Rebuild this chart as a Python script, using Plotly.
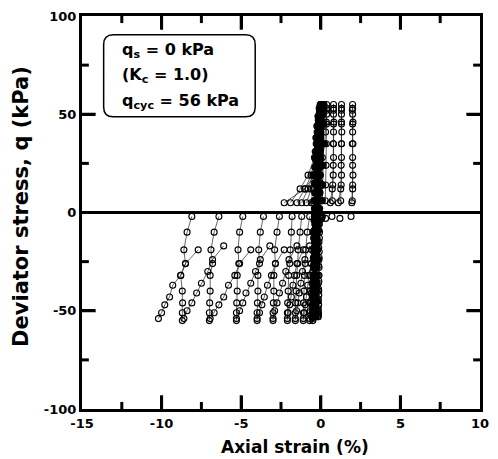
import plotly.graph_objects as go

# ---------------- data ----------------
X_TICK_TEXT = ["-15", "-10", "-5", "0", "5", "10"]
Y_TICK_TEXT = ["-100", "-50", "0", "50", "100"]
X_MAJOR = [-15, -10, -5, 0, 5, 10]
X_MINOR = [-12.5, -7.5, -2.5, 2.5, 7.5]
Y_MAJOR = [-100, -50, 0, 50, 100]
Y_MINOR = [-75, -25, 25, 75]

# early cycles (dense band near zero strain): deviator stress levels per cycle
BAND_Q = [2, 10, 19, 27, 35, 41, 47, 51, 54, 55,
          53, 49, 43, 36, 28, 19, 10, 2,
          -6, -15, -24, -32, -39, -45, -49, -52, -53,
          -50, -44, -36, -27, -18, -9]
BAND_Q2 = [6, 15, 23, 31, 38, 44, 49, 53, 55,
           54, 51, 46, 40, 32, 24, 15, 6,
           -2, -10, -20, -28, -35, -42, -47, -51, -53,
           -52, -47, -40, -32, -23, -13, -4]

BAND_STRAIN_A = [-0.10, -0.08, -0.06, -0.05, -0.04, -0.03, -0.02, -0.01, 0.00, 0.02,
                 0.02, 0.01, 0.00, -0.01, -0.02, -0.03, -0.05, -0.07,
                 -0.09, -0.11, -0.12, -0.13, -0.14, -0.15, -0.16, -0.17, -0.18,
                 -0.17, -0.16, -0.15, -0.14, -0.13, -0.12]
BAND_STRAIN_B = [-0.15, -0.13, -0.11, -0.09, -0.07, -0.05, -0.03, -0.02, 0.00, 0.03,
                 0.03, 0.02, 0.00, -0.02, -0.04, -0.06, -0.09, -0.12,
                 -0.15, -0.18, -0.20, -0.22, -0.24, -0.26, -0.28, -0.30, -0.31,
                 -0.30, -0.29, -0.27, -0.25, -0.23, -0.20]
BAND_STRAIN_C = [-0.22, -0.19, -0.16, -0.13, -0.10, -0.07, -0.04, -0.02, 0.01, 0.04,
                 0.04, 0.02, 0.00, -0.03, -0.06, -0.10, -0.14, -0.18,
                 -0.21, -0.24, -0.27, -0.29, -0.31, -0.33, -0.35, -0.37, -0.38,
                 -0.37, -0.36, -0.34, -0.32, -0.29, -0.26]
BAND_STRAIN_D = [-0.28, -0.25, -0.21, -0.17, -0.13, -0.09, -0.05, -0.02, 0.02, 0.05,
                 0.05, 0.03, 0.00, -0.04, -0.08, -0.13, -0.18, -0.23,
                 -0.27, -0.30, -0.33, -0.35, -0.37, -0.39, -0.41, -0.43, -0.44,
                 -0.43, -0.42, -0.40, -0.38, -0.35, -0.32]
BAND_STRAIN_E = [-0.32, -0.29, -0.25, -0.21, -0.17, -0.12, -0.07, -0.03, 0.01, 0.06,
                 0.05, 0.03, -0.01, -0.05, -0.10, -0.16, -0.22, -0.27,
                 -0.30, -0.33, -0.35, -0.37, -0.39, -0.41, -0.43, -0.45, -0.46,
                 -0.45, -0.44, -0.42, -0.40, -0.37, -0.34]
BAND_STRAIN_F = [-0.35, -0.33, -0.30, -0.26, -0.21, -0.15, -0.09, -0.04, 0.00, 0.05,
                 0.04, 0.01, -0.03, -0.08, -0.13, -0.19, -0.25, -0.30,
                 -0.33, -0.35, -0.37, -0.38, -0.40, -0.42, -0.44, -0.46, -0.48,
                 -0.47, -0.45, -0.43, -0.41, -0.39, -0.37]
BAND_STRAIN_G = [-0.38, -0.36, -0.33, -0.30, -0.25, -0.19, -0.12, -0.06, -0.01, 0.04,
                 0.03, 0.00, -0.05, -0.10, -0.16, -0.22, -0.28, -0.33,
                 -0.36, -0.38, -0.40, -0.41, -0.43, -0.45, -0.47, -0.49, -0.50,
                 -0.49, -0.47, -0.45, -0.43, -0.41, -0.39]
BAND_STRAIN_H = [-0.40, -0.38, -0.36, -0.33, -0.29, -0.23, -0.16, -0.09, -0.03, 0.03,
                 0.02, -0.02, -0.07, -0.12, -0.18, -0.24, -0.30, -0.35,
                 -0.37, -0.39, -0.41, -0.43, -0.45, -0.47, -0.49, -0.51, -0.52,
                 -0.51, -0.49, -0.47, -0.45, -0.43, -0.41]
BAND_STRAIN_I = [-0.06, -0.05, -0.04, -0.03, -0.02, -0.01, 0.00, 0.01, 0.02,
                 0.02, 0.01, 0.00, -0.01, -0.02, -0.03, -0.04, -0.05,
                 -0.06, -0.08, -0.10, -0.11, -0.12, -0.13, -0.14, -0.15, -0.16,
                 -0.15, -0.14, -0.13, -0.12, -0.11, -0.09, -0.07]
BAND_STRAIN_J = [-0.18, -0.15, -0.12, -0.09, -0.06, -0.04, -0.02, 0.00, 0.02,
                 0.02, 0.01, -0.01, -0.03, -0.06, -0.09, -0.12, -0.15,
                 -0.18, -0.21, -0.24, -0.26, -0.28, -0.30, -0.32, -0.33, -0.34,
                 -0.33, -0.32, -0.30, -0.28, -0.26, -0.23, -0.20]
BAND_STRAIN_K = [-0.25, -0.22, -0.18, -0.14, -0.10, -0.06, -0.03, 0.00, 0.03,
                 0.03, 0.01, -0.02, -0.05, -0.09, -0.13, -0.17, -0.21,
                 -0.24, -0.27, -0.30, -0.32, -0.34, -0.36, -0.38, -0.40, -0.41,
                 -0.40, -0.39, -0.37, -0.35, -0.32, -0.29, -0.26]
BAND_STRAIN_L = [-0.30, -0.27, -0.23, -0.19, -0.14, -0.09, -0.05, -0.01, 0.03,
                 0.03, 0.00, -0.03, -0.07, -0.12, -0.17, -0.22, -0.26,
                 -0.29, -0.32, -0.34, -0.36, -0.38, -0.40, -0.42, -0.44, -0.45,
                 -0.44, -0.43, -0.41, -0.39, -0.36, -0.33, -0.30]
BAND_STRAIN_M = [-0.34, -0.31, -0.28, -0.24, -0.19, -0.13, -0.07, -0.02, 0.02,
                 0.02, -0.01, -0.05, -0.10, -0.15, -0.20, -0.26, -0.30,
                 -0.32, -0.34, -0.36, -0.38, -0.40, -0.42, -0.44, -0.46, -0.47,
                 -0.46, -0.45, -0.43, -0.41, -0.39, -0.37, -0.34]
BAND_STRAIN_N = [-0.37, -0.35, -0.32, -0.28, -0.23, -0.17, -0.10, -0.04, 0.01,
                 0.00, -0.03, -0.07, -0.12, -0.18, -0.24, -0.29, -0.33,
                 -0.35, -0.37, -0.39, -0.41, -0.43, -0.45, -0.47, -0.49, -0.50,
                 -0.49, -0.47, -0.45, -0.43, -0.41, -0.39, -0.37]
BAND_STRAIN_O = [-0.41, -0.39, -0.36, -0.32, -0.27, -0.21, -0.14, -0.07, -0.01,
                 -0.02, -0.05, -0.10, -0.15, -0.21, -0.27, -0.32, -0.36,
                 -0.38, -0.40, -0.42, -0.44, -0.46, -0.48, -0.50, -0.52, -0.53,
                 -0.52, -0.50, -0.48, -0.46, -0.44, -0.42, -0.40]
BAND_STRAIN_P = [-0.43, -0.41, -0.38, -0.35, -0.31, -0.25, -0.18, -0.10, -0.04,
                 -0.05, -0.08, -0.12, -0.17, -0.23, -0.29, -0.34, -0.38,
                 -0.40, -0.42, -0.44, -0.46, -0.48, -0.50, -0.52, -0.54, -0.56,
                 -0.55, -0.53, -0.51, -0.49, -0.47, -0.45, -0.43]

# later cycles: extension loading branch (two sampling phases, alternating)
EXT_LOAD_Q_A = [-2, -19, -26, -32, -37, -43, -47, -51, -54]
EXT_LOAD_Q_B = [-3, -17, -24, -30, -36, -41, -46, -50, -54]
EXT_LOAD_STRAIN = [
    [-0.05, -0.20, -0.30, -0.35, -0.38, -0.42, -0.45, -0.48, -0.50],
    [-0.05, -0.30, -0.45, -0.50, -0.55, -0.60, -0.63, -0.67, -0.70],
    [0.00, -0.40, -0.60, -0.75, -0.82, -0.90, -0.97, -1.03, -1.10],
    [0.00, -0.70, -1.00, -1.15, -1.25, -1.35, -1.45, -1.52, -1.60],
    [0.00, -1.10, -1.50, -1.65, -1.75, -1.85, -1.95, -2.05, -2.10],
    [0.05, -1.50, -2.00, -2.20, -2.40, -2.60, -2.75, -2.90, -3.00],
    [0.10, -2.30, -2.85, -3.10, -3.35, -3.55, -3.70, -3.85, -4.00],
    [0.30, -3.20, -3.80, -4.10, -4.40, -4.70, -4.90, -5.10, -5.30],
    [0.70, -4.40, -5.10, -5.40, -5.80, -6.10, -6.40, -6.70, -6.95],
    [1.20, -6.10, -6.80, -7.10, -7.50, -7.80, -8.10, -8.40, -8.60],
    [1.90, -7.70, -8.50, -8.80, -9.30, -9.50, -9.80, -10.00, -10.20],
]

# later cycles: unloading from extension peak
EXT_UNLOAD_Q = [-55, -51, -46, -40, -32, -26, -19, -10, -2]
EXT_UNLOAD_STRAIN = [
    [-0.50, -0.50, -0.48, -0.46, -0.44, -0.42, -0.40, -0.35, -0.30],
    [-0.70, -0.69, -0.68, -0.66, -0.64, -0.60, -0.57, -0.50, -0.40],
    [-1.10, -1.09, -1.08, -1.06, -1.03, -0.98, -0.95, -0.85, -0.70],
    [-1.60, -1.60, -1.58, -1.55, -1.52, -1.45, -1.42, -1.30, -1.20],
    [-2.10, -2.10, -2.08, -2.05, -2.02, -1.95, -1.92, -1.85, -1.80],
    [-3.00, -3.00, -2.98, -2.95, -2.95, -2.85, -2.90, -2.75, -2.60],
    [-4.00, -4.00, -3.98, -3.95, -3.95, -3.85, -3.90, -3.80, -3.60],
    [-5.30, -5.30, -5.28, -5.25, -5.25, -5.15, -5.20, -5.10, -4.90],
    [-7.00, -7.00, -6.98, -6.95, -6.95, -6.80, -6.90, -6.70, -6.40],
    [-8.70, -8.70, -8.68, -8.70, -8.80, -8.50, -8.60, -8.40, -8.10],
]

# later cycles: compression loading + unloading
COMP_Q = [5, 12, 19, 28, 35, 41, 46, 50, 53, 55, 52, 45, 35, 24, 14, 6]
COMP_STRAIN = [
    [-0.45, -0.40, -0.35, -0.28, -0.20, -0.12, -0.06, -0.02, 0.02, 0.05, 0.05, 0.03, 0.01, -0.01, -0.03, -0.05],
    [-0.60, -0.50, -0.40, -0.30, -0.20, -0.10, -0.05, 0.00, 0.03, 0.05, 0.05, 0.04, 0.02, 0.00, -0.02, -0.05],
    [-0.90, -0.60, -0.45, -0.30, -0.20, -0.10, -0.05, 0.00, 0.05, 0.08, 0.08, 0.06, 0.04, 0.02, 0.00, -0.02],
    [-1.20, -0.80, -0.50, -0.30, -0.20, -0.10, 0.00, 0.05, 0.10, 0.10, 0.10, 0.09, 0.07, 0.05, 0.03, 0.00],
    [-1.50, -1.00, -0.60, -0.35, -0.20, -0.05, 0.05, 0.10, 0.15, 0.15, 0.15, 0.14, 0.12, 0.10, 0.08, 0.05],
    [-1.90, -1.30, -0.80, -0.40, -0.15, 0.00, 0.10, 0.15, 0.20, 0.20, 0.20, 0.20, 0.18, 0.15, 0.12, 0.10],
    [-2.30, -1.00, -0.40, 0.10, 0.25, 0.30, 0.35, 0.37, 0.37, 0.37, 0.37, 0.36, 0.35, 0.33, 0.30, 0.28],
    [0.60, 0.72, 0.78, 0.80, 0.80, 0.80, 0.82, 0.80, 0.80, 0.80, 0.80, 0.80, 0.78, 0.78, 0.75, 0.72],
    [1.10, 1.25, 1.30, 1.30, 1.30, 1.32, 1.30, 1.30, 1.30, 1.30, 1.30, 1.30, 1.30, 1.28, 1.28, 1.25],
    [1.95, 2.00, 2.02, 2.00, 1.98, 2.00, 2.02, 2.00, 2.00, 2.00, 1.98, 2.00, 2.02, 2.00, 2.00, 1.98],
]

# ---------------- assemble points (None breaks the thin connecting line) ----------------
xs, ys = [], []


def add_segment(sx, sq):
    xs.extend(list(sx) + [None])
    ys.extend(list(sq) + [None])


for band in [BAND_STRAIN_A, BAND_STRAIN_B, BAND_STRAIN_C, BAND_STRAIN_D,
             BAND_STRAIN_E, BAND_STRAIN_F, BAND_STRAIN_G, BAND_STRAIN_H]:
    add_segment(band, BAND_Q)
for band in [BAND_STRAIN_I, BAND_STRAIN_J, BAND_STRAIN_K, BAND_STRAIN_L,
             BAND_STRAIN_M, BAND_STRAIN_N, BAND_STRAIN_O, BAND_STRAIN_P]:
    add_segment(band, BAND_Q2)

for i, load in enumerate(EXT_LOAD_STRAIN):
    lq = EXT_LOAD_Q_A if i % 2 == 0 else EXT_LOAD_Q_B
    add_segment(load[:1], lq[:1])
    add_segment(load[1:], lq[1:])
    if i < len(EXT_UNLOAD_STRAIN):
        add_segment(EXT_UNLOAD_STRAIN[i], EXT_UNLOAD_Q)
    if i < len(COMP_STRAIN):
        add_segment(COMP_STRAIN[i], COMP_Q)

FONT = "DejaVu Sans"

fig = go.Figure()

# inward tick marks on all four sides, drawn on the axis scales as short line segments
X_LO, X_HI, Y_LO, Y_HI = -15, 10, -100, 100
TX_MAJ, TX_MIN = 7.0, 3.6      # tick length along q (about 14 px / 7 px)
TY_MAJ, TY_MIN = 0.86, 0.43    # tick length along strain (about 14 px / 7 px)
tick_x, tick_y = [], []
for vals, ln in [(X_MAJOR[1:-1], TX_MAJ), (X_MINOR, TX_MIN)]:
    for v in vals:
        tick_x += [v, v, None, v, v, None]
        tick_y += [Y_LO, Y_LO + ln, None, Y_HI, Y_HI - ln, None]
for vals, ln in [(Y_MAJOR[1:-1], TY_MAJ), (Y_MINOR, TY_MIN)]:
    for v in vals:
        tick_x += [X_LO, X_LO + ln, None, X_HI, X_HI - ln, None]
        tick_y += [v, v, None, v, v, None]
fig.add_trace(go.Scatter(x=tick_x, y=tick_y, mode="lines", connectgaps=False,
                         line=dict(color="#000000", width=3),
                         showlegend=False, hoverinfo="skip", cliponaxis=False))

fig.add_trace(go.Scatter(
    x=xs, y=ys, mode="lines+markers", connectgaps=False,
    line=dict(color="black", width=0.6),
    marker=dict(symbol="circle-open", size=6, color="black", line=dict(width=1.1)),
    showlegend=False, hoverinfo="skip"))

tick_font = dict(family=FONT, size=13, color="black", weight="bold")

fig.update_layout(
    width=498, height=459,
    margin=dict(l=82, r=9, t=14, b=50),
    paper_bgcolor="white", plot_bgcolor="white",
    xaxis=dict(
        range=[X_LO, X_HI], tickmode="array", tickvals=X_MAJOR, ticktext=X_TICK_TEXT,
        showgrid=False, zeroline=False, showline=True, linewidth=3, linecolor="black",
        mirror="ticks", ticks="inside", ticklen=13, tickwidth=3, tickcolor="black",
        tickfont=tick_font,
    ),
    yaxis=dict(
        range=[Y_LO, Y_HI], tickmode="array", tickvals=Y_MAJOR, ticktext=Y_TICK_TEXT,
        showgrid=False, zeroline=True, zerolinewidth=3, zerolinecolor="black",
        showline=True, linewidth=3, linecolor="black",
        mirror="ticks", ticks="inside", ticklen=13, tickwidth=3, tickcolor="black",
        tickfont=tick_font,
    ),
)

# rounded info box (data coordinates)
x0, x1, y0, y1 = -13.64, -4.12, 48.7, 90.4
rx, ry = 0.6, 5.0
path = (f"M {x0+rx},{y1} L {x1-rx},{y1} Q {x1},{y1} {x1},{y1-ry} "
        f"L {x1},{y0+ry} Q {x1},{y0} {x1-rx},{y0} L {x0+rx},{y0} "
        f"Q {x0},{y0} {x0},{y0+ry} L {x0},{y1-ry} Q {x0},{y1} {x0+rx},{y1} Z")
fig.add_shape(type="path", path=path, xref="x", yref="y",
              line=dict(color="black", width=1.5), fillcolor="white", layer="above")

box_font = dict(family=FONT, size=16, color="black", weight="bold")
for txt, yv in [("q<sub>s</sub> = 0 kPa", 82.2),
                ("(K<sub>c</sub> = 1.0)", 69.5),
                ("q<sub>cyc</sub> = 56 kPa", 56.3)]:
    fig.add_annotation(x=-12.6, y=yv, xref="x", yref="y", text=txt, showarrow=False,
                       xanchor="left", yanchor="middle", font=box_font)

fig.add_annotation(x=0.535, y=-0.065, xref="paper", yref="paper", text="Axial strain (%)",
                   showarrow=False, xanchor="center", yanchor="top",
                   font=dict(family=FONT, size=17, color="black", weight="bold"))
fig.add_annotation(x=-0.155, y=0.515, xref="paper", yref="paper",
                   text="Deviator stress, q (kPa)", textangle=-90,
                   showarrow=False, xanchor="center", yanchor="middle",
                   font=dict(family=FONT, size=21, color="black", weight="bold"))

fig.write_html("out.html")
